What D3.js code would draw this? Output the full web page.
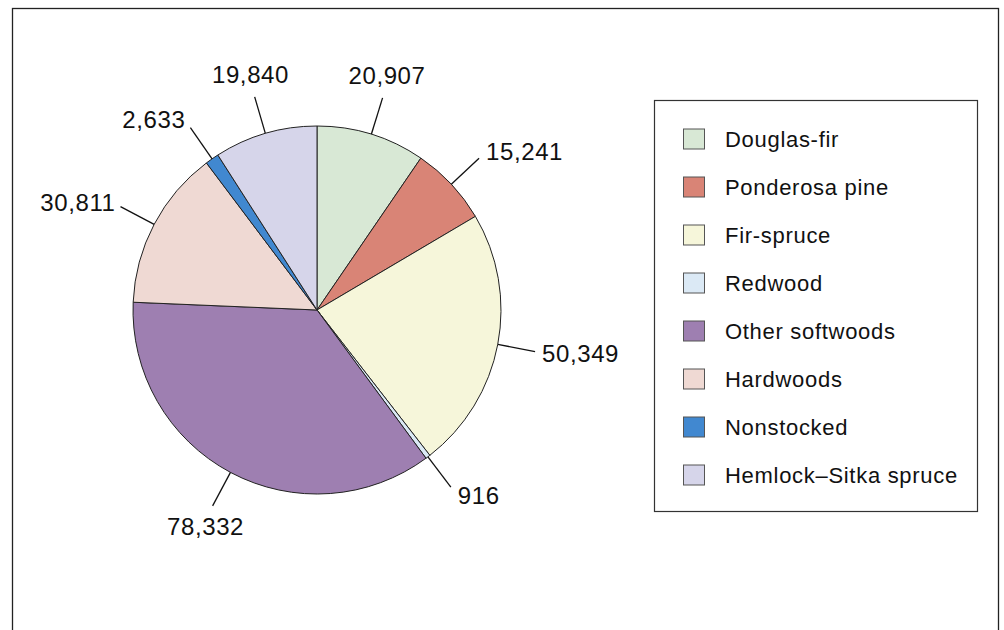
<!DOCTYPE html>
<html>
<head>
<meta charset="utf-8">
<script src="https://cdn.jsdelivr.net/npm/d3@7"></script>
<style>
  html, body { margin: 0; padding: 0; background: #fff; }
  svg { display: block; font-family: "Liberation Sans", Arial, Helvetica, sans-serif; }
</style>
</head>
<body>
<svg id="chart" width="1004" height="630"></svg>
<script>
// Forest type groups and their areas (thousand acres)
const categories = [
  "Douglas-fir", "Ponderosa pine", "Fir-spruce", "Redwood",
  "Other softwoods", "Hardwoods", "Nonstocked", "Hemlock–Sitka spruce"
];
const values = [20907, 15241, 50349, 916, 78332, 30811, 2633, 19840];
const colors = [
  "#d8e8d5", "#d98476", "#f6f6da", "#dbe9f5",
  "#9e7fb1", "#efd9d3", "#4188d0", "#d6d5ea"
];

const svg = d3.select("#chart");

// Outer frame (open at the bottom edge of the page)
svg.append("rect")
  .attr("x", 12.5).attr("y", 8.5)
  .attr("width", 986).attr("height", 660)
  .attr("fill", "none")
  .attr("stroke", "#222")
  .attr("stroke-width", 1.3);

// Pie
const cx = 317, cy = 310, R = 184, Rleader = 222;
const pie = d3.pie().sort(null).value(d => d.value);
const arcs = pie(categories.map((c, i) => ({ name: c, value: values[i], color: colors[i] })));
const arc = d3.arc().innerRadius(0).outerRadius(R);

const g = svg.append("g").attr("transform", `translate(${cx},${cy})`);

g.selectAll("path.slice")
  .data(arcs)
  .join("path")
  .attr("class", "slice")
  .attr("d", arc)
  .attr("fill", d => d.data.color)
  .attr("stroke", "#222")
  .attr("stroke-width", 1)
  .attr("stroke-linejoin", "round");

// Leader lines and value labels
const fmt = d3.format(",");
const labelSize = 24;

arcs.forEach(d => {
  const a = (d.startAngle + d.endAngle) / 2;
  const s = Math.sin(a), c = Math.cos(a);
  const x1 = R * s, y1 = -R * c;
  const x2 = Rleader * s, y2 = -Rleader * c;

  g.append("line")
    .attr("x1", x1).attr("y1", y1)
    .attr("x2", x2).attr("y2", y2)
    .attr("stroke", "#111")
    .attr("stroke-width", 1.3);

  let tx, ty, anchor;
  if (Math.abs(s) < 0.5) {
    anchor = "middle";
    tx = x2 + s * 15;
    ty = c > 0 ? y2 - 14 : y2 + 12 + labelSize * 0.72;
  } else {
    anchor = s > 0 ? "start" : "end";
    tx = x2 + (s > 0 ? 7 : -5);
    const centerY = y2 - c * 10;
    ty = centerY + labelSize * 0.36;
  }

  g.append("text")
    .attr("x", tx).attr("y", ty)
    .attr("text-anchor", anchor)
    .attr("font-size", labelSize)
    .attr("letter-spacing", 0.6)
    .attr("fill", "#111")
    .text(fmt(d.data.value));
});

// Legend
const legend = svg.append("g");
legend.append("rect")
  .attr("x", 654.5).attr("y", 100.5)
  .attr("width", 323).attr("height", 411)
  .attr("fill", "#fff")
  .attr("stroke", "#333")
  .attr("stroke-width", 1.2);

const rowY = d3.scalePoint().domain(categories).range([139, 475]);

const rows = legend.selectAll("g.row")
  .data(arcs.map(d => d.data))
  .join("g")
  .attr("class", "row")
  .attr("transform", d => `translate(0,${rowY(d.name)})`);

rows.append("rect")
  .attr("x", 683.5).attr("y", -10)
  .attr("width", 21).attr("height", 20)
  .attr("fill", d => d.color)
  .attr("stroke", "#555")
  .attr("stroke-width", 1);

rows.append("text")
  .attr("x", 725).attr("y", 22 * 0.36)
  .attr("font-size", 22)
  .attr("letter-spacing", 0.7)
  .attr("fill", "#111")
  .text(d => d.name);
</script>
</body>
</html>
